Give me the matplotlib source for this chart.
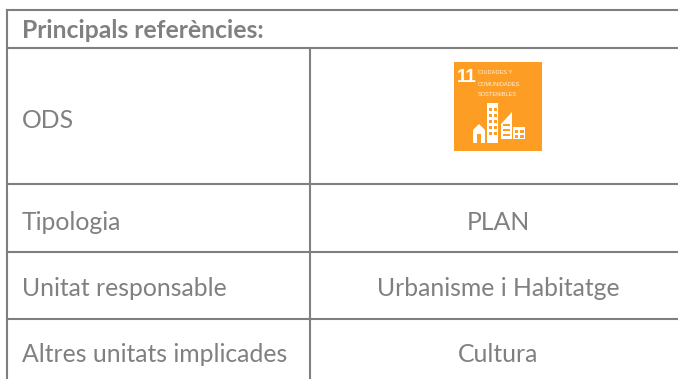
import matplotlib.pyplot as plt
from matplotlib.patches import Rectangle, Polygon

# table contents
header = 'Principals referències:'
row_labels = ['ODS', 'Tipologia', 'Unitat responsable', 'Altres unitats implicades']
row_values = ['', 'PLAN', 'Urbanisme i Habitatge', 'Cultura']
row_lines = [47.5, 184, 251.5, 319]
icon_number = '11'
icon_lines = ['CIUDADES Y', 'COMUNIDADES', 'SOSTENIBLES']

grey = '#7f7f7f'
text_grey = '#808080'
orange = '#fd9d24'

plt.rcParams['font.family'] = ['Lato', 'DejaVu Sans']

fig = plt.figure(figsize=(6.78, 3.79), dpi=100)
ax = fig.add_axes([0, 0, 1, 1])
ax.set_xlim(0, 678)
ax.set_ylim(379, 0)
ax.axis('off')

# grid lines
ax.plot([7, 678], [10, 10], color=grey, lw=1.5)
for y in row_lines:
    ax.plot([7, 678], [y, y], color=grey, lw=1.5)
ax.plot([7, 7], [10, 379], color=grey, lw=1.5)
ax.plot([310, 310], [47.5, 379], color=grey, lw=1.5)

ax.text(22, 30.5, header, color=text_grey, fontsize=17.8, fontweight='bold', va='center')

row_mid = [120, 222, 289, 355]
for y, lab, val in zip(row_mid, row_labels, row_values):
    ax.text(22, y, lab, color=text_grey, fontsize=17.8, va='center')
    ax.text(498, y, val, color=text_grey, fontsize=17.8, va='center', ha='center')

# SDG 11 icon
ax.add_patch(Rectangle((454, 62), 88, 89, color=orange, lw=0))
ax.text(457, 78, icon_number, color='white', fontsize=13.5, fontweight='bold', va='center',
        family='Liberation Sans')
for y, t in zip([73, 84, 95], icon_lines):
    ax.text(478, y, t, color='white', fontsize=4.1, va='center', alpha=0.85,
            family='Liberation Sans')

# buildings
ax.add_patch(Polygon([[473, 143], [473, 130], [479, 124], [485, 130], [485, 143]], color='white', lw=0))
ax.add_patch(Rectangle((477, 134), 4, 9, color=orange, lw=0))
ax.add_patch(Rectangle((487, 103), 11, 40, color='white', lw=0))
for wy in [108, 114, 120, 126, 132]:
    for wx in [489, 494]:
        ax.add_patch(Rectangle((wx, wy), 2.5, 3, color=orange, lw=0))
ax.add_patch(Polygon([[501, 139], [501, 124], [512, 112], [512, 139]], color='white', lw=0))
for wy in [124, 129, 134]:
    ax.add_patch(Rectangle((503, wy), 7, 1.5, color=orange, lw=0))
ax.add_patch(Rectangle((513, 127), 12, 12, color='white', lw=0))
for wy in [130, 135]:
    for wx in [514.5, 520]:
        ax.add_patch(Rectangle((wx, wy), 3.5, 2.5, color=orange, lw=0))

fig.savefig('out.png', dpi=100)
